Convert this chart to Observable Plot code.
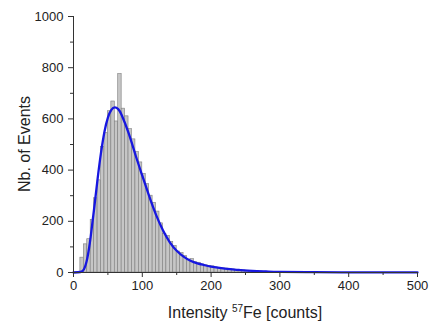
<!DOCTYPE html>
<html>
<head>
<meta charset="utf-8">
<script src="https://cdn.jsdelivr.net/npm/d3@7"></script>
<script src="https://cdn.jsdelivr.net/npm/@observablehq/plot@0.6"></script>
<style>
  html, body { margin: 0; padding: 0; background: #fff; }
  #chart { width: 432px; height: 328px; }
</style>
</head>
<body>
<div id="chart"></div>
<script>
// Histogram bins (start of bin, width 5 counts) and event counts
const binWidth = 5;
const binStarts = [10,15,20,25,30,35,40,45,50,55,60,65,70,75,80,85,90,95,100,105,110,115,120,125,130,135,140,145,150,155,160,165,170,175,180,185,190,195,200,205,210,215,220,225,230,235,240,245,250,255,260,265,270,275,280,285,290,295,300,305,310,315,320];
const binCounts = [58,110,130,205,290,360,490,545,630,668,590,775,640,610,560,520,470,430,385,345,300,272,238,192,150,143,120,104,82,76,64,50,52,40,38,31,28,25,24,20,18,16,15,13,12,10,9,8,7,6,5,5,4,3,3,2,2,2,1,1,1,1,1];

// Fitted curve
const fitX = [0,10,15,20,25,30,35,40,45,50,55,60,65,70,80,90,100,110,120,130,140,150,160,170,180,190,200,220,240,260,280,300,350,400,450,500];
const fitY = [0,2,12,55,140,250,365,468,550,605,635,645,638,615,545,460,378,298,225,165,118,85,62,46,36,29,23,15,10,6,4,2.5,1.2,0.6,0.3,0.1];

// Axis ticks
const xMajor = [0,100,200,300,400,500];
const xMinor = [50,150,250,350,450];
const yMajor = [0,200,400,600,800,1000];
const yMinor = [100,300,500,700,900];

const bars = binStarts.map((s, i) => ({x1: s, x2: s + binWidth, count: binCounts[i]}));
const fit = fitX.map((x, i) => ({x, y: fitY[i]}));

const font = "'Liberation Sans', Arial, sans-serif";

const chart = Plot.plot({
  width: 432,
  height: 328,
  marginLeft: 73,
  marginRight: 15,
  marginTop: 16,
  marginBottom: 56,
  style: {fontFamily: font, fontSize: "13px", color: "#222", background: "#fff"},
  x: {domain: [0, 500]},
  y: {domain: [0, 1000]},
  marks: [
    Plot.rectY(bars, {x1: "x1", x2: "x2", y: "count", fill: "#c6c6c6", stroke: "#7d7d7d", strokeWidth: 0.6}),
    Plot.line(fit, {x: "x", y: "y", curve: "natural", stroke: "#1717e0", strokeWidth: 2.3}),
    Plot.ruleX([0], {stroke: "#333", strokeWidth: 1}),
    Plot.ruleY([0], {stroke: "#333", strokeWidth: 1}),
    Plot.axisX(xMajor, {tickSize: 5, tickPadding: 3, fontSize: 13, tickFormat: d3.format("d"), label: null, stroke: "#333"}),
    Plot.axisX(xMinor, {tickSize: 3, tickFormat: () => "", label: null, stroke: "#333"}),
    Plot.axisY(yMajor, {tickSize: 5, tickPadding: 5, fontSize: 13, tickFormat: d3.format("d"), label: null, stroke: "#333"}),
    Plot.axisY(yMinor, {tickSize: 3, tickFormat: () => "", label: null, stroke: "#333"})
  ]
});

const svg = d3.select(chart);
const xs = chart.scale("x"), ys = chart.scale("y");
const xc = (xs.apply(0) + xs.apply(500)) / 2;
const yc = (ys.apply(0) + ys.apply(1000)) / 2;

const xl = svg.append("text")
  .attr("x", xc).attr("y", 318)
  .attr("text-anchor", "middle")
  .attr("font-family", font).attr("font-size", 16).attr("fill", "#222");
xl.append("tspan").text("Intensity ");
xl.append("tspan").attr("dy", -6).attr("font-size", 10).text("57");
xl.append("tspan").attr("dy", 6).text("Fe [counts]");

svg.append("text")
  .attr("transform", `translate(30,${yc}) rotate(-90)`)
  .attr("text-anchor", "middle")
  .attr("font-family", font).attr("font-size", 16).attr("fill", "#222")
  .text("Nb. of Events");

document.getElementById("chart").appendChild(chart);
</script>
</body>
</html>
